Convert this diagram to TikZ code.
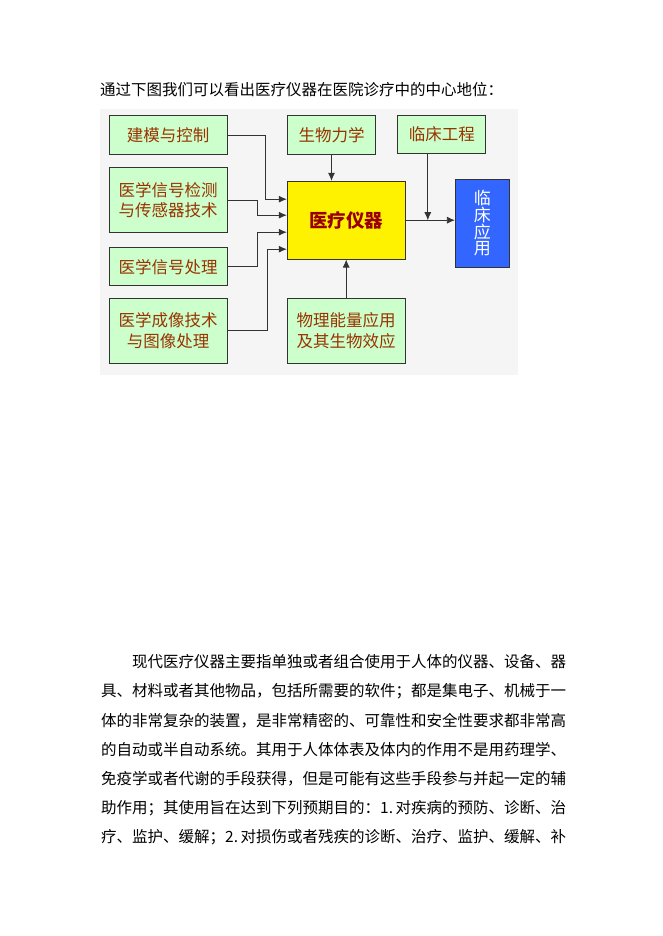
\documentclass[tikz,border=0pt]{standalone}
\usepackage{fontspec}
\setmainfont{Noto Sans CJK SC}
\usepackage{tikz}
\usetikzlibrary{arrows.meta}

\definecolor{boxgreen}{HTML}{CCFFCC}
\definecolor{txtbrown}{HTML}{993300}
\definecolor{deepred}{HTML}{990000}
\definecolor{appblue}{HTML}{3366FF}

\tikzset{
	box/.style={draw=black!80, line width=0.8pt, fill=boxgreen, text=txtbrown, align=center,
		inner sep=0pt, font=\fontsize{16.5}{20.7}\selectfont},
	arr/.style={draw=black!80, line width=0.8pt, -{Latex[length=8pt,width=7pt]}},
	line/.style={anchor=west, inner sep=0pt, font=\fontsize{15.5}{15.5}\selectfont}
}

\begin{document}
\begin{tikzpicture}[x=1pt, y=-1pt]
	\useasboundingbox (0,0) rectangle (662,936);
	\fill[white] (0,0) rectangle (662,936);
	\node[line] (top) at (100,90) {通过下图我们可以看出医疗仪器在医院诊疗中的中心地位：};
	%
	\fill[black!4] (100,109) rectangle (518,375);
	\node[box, minimum width=118, minimum height=39] (jm) at (168,135.3) {建模与控制};
	\node[box, minimum width=118, minimum height=65] (jc) at (168,200.3) {医学信号检测\\与传感器技术};
	\node[box, minimum width=118, minimum height=38] (xh) at (168,266.7) {医学信号处理};
	\node[box, minimum width=118, minimum height=65] (cx) at (168,330.8) {医学成像技术\\与图像处理};
	\node[box, minimum width=88, minimum height=39] (sw) at (331.5,135.3) {生物力学};
	\node[box, minimum width=88, minimum height=37.5] (lc) at (441.8,134.5) {临床工程};
	\node[box, minimum width=118, minimum height=65] (wl) at (346.2,330.8) {物理能量应用\\及其生物效应};
	\node[box, fill=yellow, text=deepred, minimum width=118, minimum height=78,
		font=\fontsize{18.5}{18.5}\selectfont\bfseries] (yq) at (346.2,220.2) {医疗仪器};
	\node[box, fill=appblue, text=white, minimum width=54, minimum height=88,
		font=\fontsize{17}{16.7}\selectfont] (yy) at (482.3,223.3) {临\\床\\应\\用};
	%
	\draw[arr] (jm.east) -- ++(38,0) |- ([yshift=21pt]yq.west);
	\draw[arr] (jc.east) -- ++(29.7,0) |- ([yshift=5pt]yq.west);
	\draw[arr] (xh.east) -- ++(29.7,0) |- ([yshift=-12pt]yq.west);
	\draw[arr] (cx.east) -- ++(39.7,0) |- ([yshift=-29pt]yq.west);
	\draw[arr] (sw.south) -- (sw.south |- yq.north);
	\draw[arr] (wl.north) -- (wl.north |- yq.south);
	\draw[arr] (yq.east) -- (yq.east -| yy.west);
	\draw[arr] ([xshift=-14pt]lc.south) -- ([xshift=-14pt]lc.south |- yq.east);
	%
	\node[line] (p1) at (101,662) {\hspace{31pt}现代医疗仪器主要指单独或者组合使用于人体的仪器、设备、器};
	\node[line] (p2) at (101,691.2) {具、材料或者其他物品，包括所需要的软件；都是集电子、机械于一};
	\node[line] (p3) at (101,720.4) {体的非常复杂的装置，是非常精密的、可靠性和安全性要求都非常高};
	\node[line] (p4) at (101,749.6) {的自动或半自动系统。其用于人体体表及体内的作用不是用药理学、};
	\node[line] (p5) at (101,778.8) {免疫学或者代谢的手段获得，但是可能有这些手段参与并起一定的辅};
	\node[line] (p6) at (101,808) {助作用；其使用旨在达到下列预期目的：\makebox[1em][l]{1.}对疾病的预防、诊断、治};
	\node[line] (p7) at (101,837.2) {疗、监护、缓解；\makebox[1em][l]{2.}对损伤或者残疾的诊断、治疗、监护、缓解、补};
\end{tikzpicture}
\end{document}
